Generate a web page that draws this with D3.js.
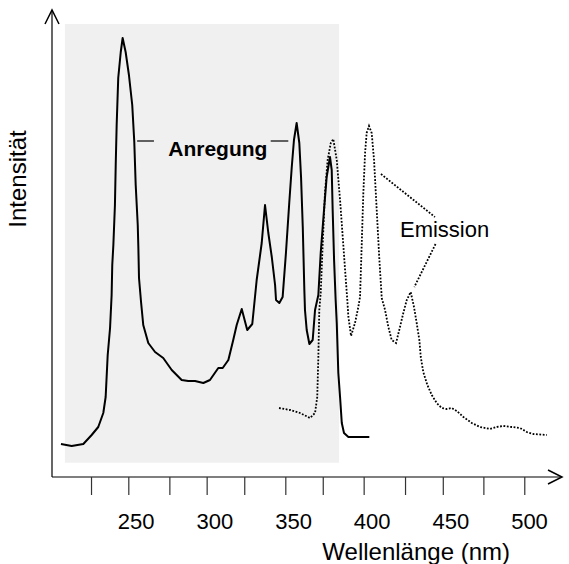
<!DOCTYPE html>
<html>
<head>
<meta charset="utf-8">
<script src="https://cdn.jsdelivr.net/npm/d3@7"></script>
<style>
  html, body { margin: 0; padding: 0; background: #fff; }
  svg { display: block; }
  text { font-family: "Liberation Sans", Arial, Helvetica, sans-serif; fill: #000; }
</style>
</head>
<body>
<svg id="chart" width="569" height="564"></svg>
<script>
// ---- data (wavelength in nm, intensity in arbitrary units) ----
const excitationNm = [202.5,209.3,216.7,222,226.2,229.4,230.9,232.2,233.7,234.7,235.1,235.8,236.8,237.3,237.9,238.9,240.5,241.7,243.6,245.7,247.8,249.1,250,251.3,251.7,252.1,253.4,254.8,258,262.3,267.5,272.9,279.2,283.4,287.7,293,297.2,302.5,305.3,308.9,312,314.2,317.4,320.9,324.1,326.9,330.1,332.2,334.3,336.5,338.6,339.2,341.3,343.4,345.5,347.6,349.2,350.6,352.3,354,355.1,356.2,357.2,357.6,358.7,360.4,362.5,364,366.1,367.6,369.7,371.4,373.5,374.6,375.2,376.1,377.1,377.8,378.8,379.9,381,382.4,385.2,398.5];
const excitationI  = [26,24,26,35,43,57,73,115,142,175,205,225,265,305,345,392,418,432,418,395,365,328,285,245,222,192,168,145,127,118,112,100,90,89,89,87,90,102,102,110,130,145,161,140,146,190,227,265,237,213,185,170,167,173,217,267,303,330,347,327,293,243,180,160,140,126,130,160,175,217,260,293,313,300,260,210,170,147,97,73,47,37,33,33];

const emissionNm = [341.1,348.1,354.4,360.8,364,365.4,366.1,366.7,367.6,368.9,370.3,372,374,375.6,377.8,379.9,381.6,383.1,384.5,385.2,386.9,389.4,391.5,392.6,393.7,394.7,395.8,396.8,398.3,400,401.5,403.2,404.9,406.4,408.5,410.6,412.7,415.5,418,420.1,422.3,424.8,426.9,428.6,430.3,431.2,432.8,435.4,438.2,441.3,444.5,447.7,450.9,454.1,458.3,463.6,468.9,475.2,479.5,483.7,489,494.3,498.6,502.8,511.3];
const emissionI  = [62,60,57,52,57,73,113,160,177,227,277,310,327,331,310,270,233,200,170,153,134,147,163,173,227,277,317,337,344,337,310,260,210,172,160,143,130,127,143,157,170,178,163,147,130,113,98,85,75,67,62,61,62,59,53,47,43,41,43,44,43,42,38,36,35];

const tickLabels = [250, 300, 350, 400, 450, 500];
const tickMarks  = [221.6, 245.3, 271.4, 295.1, 319, 345.1, 368.9, 394.9, 421.2, 445.2, 471, 497];
const excitationRange = [205, 379.3];

const labelExcitation = "Anregung";
const labelEmission = "Emission";
const xTitle = "Wellenlänge (nm)";
const yTitle = "Intensität";

// ---- layout ----
const svg = d3.select("#chart");
const x = d3.scaleLinear().domain([250, 500]).range([135.7, 529]);
const y = d3.scaleLinear().domain([0, 450]).range([470, 20]);
const axisX0 = 52, axisY0 = 477;

// shaded excitation region
svg.append("rect")
  .attr("x", x(excitationRange[0]))
  .attr("y", 24)
  .attr("width", x(excitationRange[1]) - x(excitationRange[0]))
  .attr("height", 462.7 - 24)
  .attr("fill", "#f0f0f0");

// axes lines
svg.append("line").attr("x1", axisX0).attr("y1", axisY0).attr("x2", axisX0).attr("y2", 10)
  .attr("stroke", "#000").attr("stroke-width", 1.2);
svg.append("line").attr("x1", axisX0).attr("y1", axisY0).attr("x2", 561).attr("y2", axisY0)
  .attr("stroke", "#000").attr("stroke-width", 1.2);
// arrow heads (open chevrons)
svg.append("path").attr("d", `M${axisX0-7},${24} L${axisX0},${10} L${axisX0+7},${24}`)
  .attr("fill", "none").attr("stroke", "#000").attr("stroke-width", 1.5);
svg.append("path").attr("d", `M548,${axisY0-7} L562,${axisY0} L548,${axisY0+7}`)
  .attr("fill", "none").attr("stroke", "#000").attr("stroke-width", 1.5);

// x ticks (via d3 axis, marks only)
const tickAxis = d3.axisBottom(x).tickValues(tickMarks).tickSize(18).tickFormat("");
const gT = svg.append("g").attr("transform", `translate(0,${axisY0})`).call(tickAxis);
gT.select(".domain").remove();
gT.selectAll("line").attr("stroke", "#333").attr("stroke-width", 1.2);

// tick labels
const labAxis = d3.axisBottom(x).tickValues(tickLabels).tickSize(0).tickPadding(0).tickFormat(d3.format("d"));
const gL = svg.append("g").attr("transform", `translate(0,${529})`).call(labAxis);
gL.select(".domain").remove();
gL.selectAll("text").attr("dy", 0).attr("y", 0)
  .style("font-family", '"Liberation Sans", Arial, sans-serif').style("font-size", "22px").attr("fill", "#000");

// titles
svg.append("text").attr("x", 510).attr("y", 560).attr("text-anchor", "end")
  .style("font-size", "24px").text(xTitle);
svg.append("text").attr("transform", "translate(26,179) rotate(-90)").attr("text-anchor", "middle")
  .style("font-size", "24px").text(yTitle);

// curves
const line = d3.line().x(d => x(d[0])).y(d => y(d[1]));
const exc = excitationNm.map((v, i) => [v, excitationI[i]]);
const emi = emissionNm.map((v, i) => [v, emissionI[i]]);

svg.append("path").datum(emi).attr("d", line)
  .attr("fill", "none").attr("stroke", "#000").attr("stroke-width", 1.8)
  .attr("stroke-dasharray", "1.8,1.6");
svg.append("path").datum(exc).attr("d", line)
  .attr("fill", "none").attr("stroke", "#000").attr("stroke-width", 2)
  .attr("stroke-linejoin", "round");

// annotations: Anregung
svg.append("line").attr("x1", x(250.9)).attr("x2", x(261.6)).attr("y1", y(329)).attr("y2", y(329))
  .attr("stroke", "#000").attr("stroke-width", 1.2);
svg.append("line").attr("x1", x(335.8)).attr("x2", x(347)).attr("y1", y(329)).attr("y2", y(329))
  .attr("stroke", "#000").attr("stroke-width", 1.2);
svg.append("text").attr("x", x(270.7)).attr("y", y(314))
  .style("font-size", "21px").style("font-weight", "bold").text(labelExcitation);

// annotations: Emission
svg.append("line").attr("x1", x(405.9)).attr("y1", y(296)).attr("x2", x(440.2)).attr("y2", y(253))
  .attr("stroke", "#000").attr("stroke-width", 1.8).attr("stroke-dasharray", "1.8,1.6");
svg.append("line").attr("x1", x(440.6)).attr("y1", y(226)).attr("x2", x(427.1)).attr("y2", y(183))
  .attr("stroke", "#000").attr("stroke-width", 1.8).attr("stroke-dasharray", "1.8,1.6");
svg.append("text").attr("x", x(418)).attr("y", y(233))
  .style("font-size", "22px").text(labelEmission);
</script>
</body>
</html>
